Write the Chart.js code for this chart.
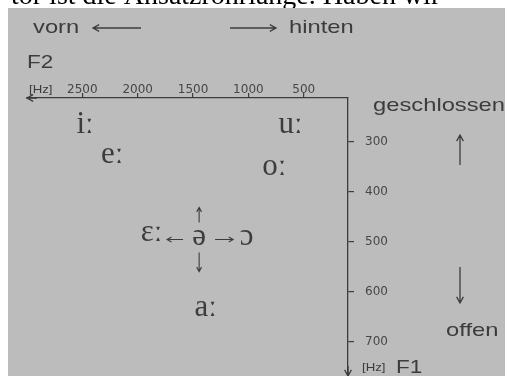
<!DOCTYPE html>
<html>
<head>
<meta charset="utf-8">
<script src="https://cdn.jsdelivr.net/npm/chart.js@4.4.0/dist/chart.umd.min.js"></script>
<style>
    html, body { margin: 0; padding: 0; background: #fff; }
    #wrap { width: 507px; height: 376px; position: relative; }
</style>
</head>
<body>
<div id="wrap"><canvas id="vowelChart"></canvas></div>
<script>
// German long vowels, formant values (Hz)
const vowels = ["iː", "eː", "uː", "oː", "ɛː", "ə", "ɔ", "aː"];
const f2Values = [2475, 2230, 620, 765, 1875, 1445, 1015, 1385];
const f1Values = [266, 326, 266, 350, 482, 490, 490, 632];

const f2Ticks = [2500, 2000, 1500, 1000, 500];
const f1Ticks = [300, 400, 500, 600, 700];

const stripText = "tor ist die Ansatzrohrlänge. Haben wir";
const ink = "#3c3c3c";
const sans = "'Liberation Sans', Arial, sans-serif";

function stretchText(ctx, text, x, y, size, sx) {
    ctx.save();
    ctx.font = size + "px " + sans;
    ctx.fillStyle = ink;
    ctx.textAlign = "left";
    ctx.textBaseline = "alphabetic";
    ctx.translate(x, y);
    ctx.scale(sx || 1.25, 1);
    ctx.fillText(text, 0, 0);
    ctx.restore();
}

// straight arrow with an open chevron head at (x2, y2)
function arrow(ctx, x1, y1, x2, y2, head) {
    const a = Math.atan2(y2 - y1, x2 - x1);
    const h = head || 6;
    ctx.beginPath();
    ctx.moveTo(x1, y1);
    ctx.lineTo(x2, y2);
    ctx.moveTo(x2 - h * Math.cos(a - 0.5), y2 - h * Math.sin(a - 0.5));
    ctx.lineTo(x2, y2);
    ctx.lineTo(x2 - h * Math.cos(a + 0.5), y2 - h * Math.sin(a + 0.5));
    ctx.stroke();
}

const backdrop = {
    id: "backdrop",
    beforeDraw(chart) {
        const ctx = chart.ctx;
        ctx.save();
        ctx.fillStyle = "#fff";
        ctx.fillRect(0, 0, chart.width, chart.height);
        ctx.fillStyle = "#000";
        ctx.font = "28px 'Liberation Serif', serif";
        ctx.textBaseline = "alphabetic";
        ctx.fillText(stripText, 11, 4);
        ctx.fillStyle = "#bcbcbc";
        ctx.fillRect(8, 8, 497, chart.height - 8);
        ctx.restore();
    }
};

const annotations = {
    id: "annotations",
    afterDraw(chart) {
        const ctx = chart.ctx;
        const area = chart.chartArea;
        ctx.save();
        ctx.strokeStyle = ink;
        ctx.lineWidth = 1.3;

        // axis arrow heads
        arrow(ctx, area.left + 10, area.top, area.left, area.top, 7);
        arrow(ctx, area.right, area.bottom - 10, area.right, area.bottom, 7);

        // direction arrows
        arrow(ctx, 141, 28, 93, 28, 7);
        arrow(ctx, 230, 28, 276, 28, 7);
        arrow(ctx, 460, 165, 460, 135, 7);
        arrow(ctx, 460, 267, 460, 303, 7);

        stretchText(ctx, "vorn", 33, 33, 19);
        stretchText(ctx, "hinten", 289, 33, 19);
        stretchText(ctx, "F2", 27, 68, 18);
        stretchText(ctx, "[Hz]", 29, 93, 11, 1.2);
        stretchText(ctx, "geschlossen", 373, 111, 19);
        stretchText(ctx, "offen", 446, 336, 19);
        stretchText(ctx, "[Hz]", 362, 371, 11, 1.2);
        stretchText(ctx, "F1", 396, 373, 18);

        // vowel symbols at their formant positions
        const meta = chart.getDatasetMeta(0);
        ctx.fillStyle = ink;
        ctx.font = "31px 'Liberation Serif', 'DejaVu Serif', serif";
        ctx.textAlign = "center";
        ctx.textBaseline = "middle";
        meta.data.forEach((pt, i) => {
            ctx.fillText(vowels[i], pt.x, pt.y);
        });

        // arrows around the schwa
        const schwa = meta.data[vowels.indexOf("ə")];
        ctx.lineWidth = 1.1;
        const sx = schwa.x, sy = schwa.y + 3;
        arrow(ctx, sx - 16, sy, sx - 32, sy, 5);
        arrow(ctx, sx + 16, sy, sx + 34, sy, 5);
        arrow(ctx, sx, sy - 17, sx, sy - 32, 5);
        arrow(ctx, sx, sy + 13, sx, sy + 32, 5);
        ctx.restore();
    }
};

const tickFont = { family: "'DejaVu Sans', sans-serif", size: 12 };

new Chart(document.getElementById("vowelChart"), {
    type: "scatter",
    data: {
        datasets: [{
            label: "Vokale",
            data: vowels.map((v, i) => ({ x: f2Values[i], y: f1Values[i] })),
            pointRadius: 0,
            pointHoverRadius: 0
        }]
    },
    options: {
        responsive: true,
        maintainAspectRatio: false,
        animation: false,
        events: [],
        layout: { padding: { left: 27, right: 0, top: 0, bottom: 0 } },
        plugins: {
            legend: { display: false },
            tooltip: { enabled: false }
        },
        scales: {
            x: {
                type: "linear",
                position: "top",
                reverse: true,
                min: 100,
                max: 3000,
                afterBuildTicks: (s) => { s.ticks = f2Ticks.map((v) => ({ value: v })); },
                afterFit: (s) => {
                    s.height = 98;
                    s.paddingLeft = 0; s.paddingRight = 0;
                    s.paddingTop = 0; s.paddingBottom = 0;
                },
                grid: { drawOnChartArea: false, drawTicks: true, tickLength: 5, color: ink, lineWidth: 1.2 },
                border: { display: true, color: ink, width: 1.3 },
                ticks: {
                    autoSkip: false, maxRotation: 0, padding: -4, color: "#464646", font: tickFont,
                    callback: (v) => String(v)
                }
            },
            y: {
                type: "linear",
                position: "right",
                reverse: true,
                min: 213,
                max: 769,
                afterBuildTicks: (s) => { s.ticks = f1Ticks.map((v) => ({ value: v })); },
                afterFit: (s) => {
                    s.width = 159;
                    s.paddingLeft = 0; s.paddingRight = 0;
                    s.paddingTop = 0; s.paddingBottom = 0;
                },
                grid: { drawOnChartArea: false, drawTicks: true, tickLength: 6, color: ink, lineWidth: 1.2 },
                border: { display: true, color: ink, width: 1.3 },
                ticks: {
                    autoSkip: false, padding: 11, color: "#464646", font: tickFont,
                    callback: (v) => String(v)
                }
            }
        }
    },
    plugins: [backdrop, annotations]
});
</script>
</body>
</html>
